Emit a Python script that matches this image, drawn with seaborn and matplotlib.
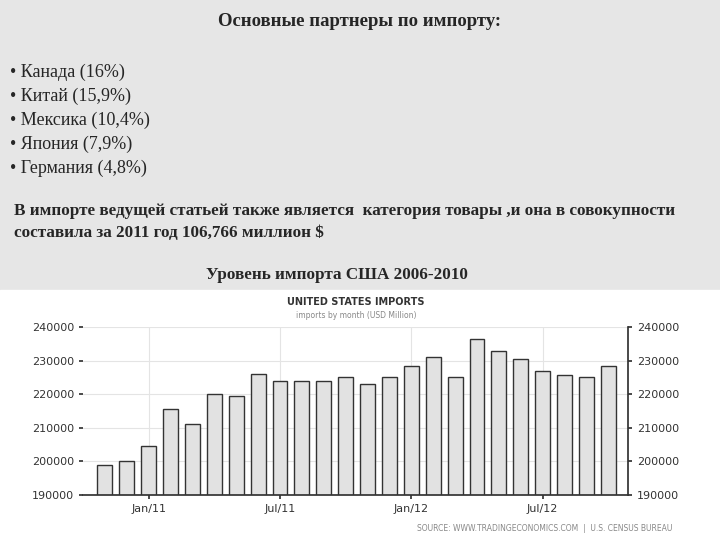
import matplotlib
matplotlib.use("Agg")
import matplotlib.pyplot as plt
import matplotlib.patches as mpatches
import seaborn as sns
import numpy as np

months = ["Nov/10","Dec/10","Jan/11","Feb/11","Mar/11","Apr/11","May/11","Jun/11","Jul/11","Aug/11","Sep/11","Oct/11",
          "Nov/11","Dec/11","Jan/12","Feb/12","Mar/12","Apr/12","May/12","Jun/12","Jul/12","Aug/12","Sep/12","Oct/12"]
imports = [198900,200000,204500,215500,211000,220000,219500,226000,223800,224000,223800,225000,
           223000,225000,228500,231000,225000,236500,233000,230500,227000,225800,225000,228500]
tick_labels = ["Jan/11","Jul/11","Jan/12","Jul/12"]
bullets = ["• Канада (16%)","• Китай (15,9%)","• Мексика (10,4%)","• Япония (7,9%)","• Германия (4,8%)"]

sns.set_theme(style="white")
plt.rcParams['font.family'] = ['Liberation Serif', 'DejaVu Serif']
fig = plt.figure(figsize=(7.2,5.4), dpi=100)
fig.patch.set_facecolor("#e6e6e6")
fig.patches.append(mpatches.Rectangle((0,0),1,1-290/540,transform=fig.transFigure,color="white",zorder=0))
fig.text(0.5,1-22/540,"Основные партнеры по импорту:",ha="center",va="center",fontsize=13.5,fontweight="bold")
for i,b in enumerate(bullets):
    fig.text(10/720,1-(72+24*i)/540,b,va="center",fontsize=13)
fig.text(14/720,1-211/540,"В импорте ведущей статьей также является  категория товары ,и она в совокупности",va="center",fontsize=12.3,fontweight="bold")
fig.text(14/720,1-233/540,"составила за 2011 год 106,766 миллион $",va="center",fontsize=12.3,fontweight="bold")
fig.text(206/720,1-275/540,"Уровень импорта США 2006-2010",va="center",fontsize=12.3,fontweight="bold")

ax = fig.add_axes([83/720,1-495/540,545/720,168/540])
x = np.arange(len(months))
sns.barplot(x=x,y=imports,ax=ax,color="#e2e2e2",edgecolor="#333333",linewidth=1,width=0.68,saturation=1)
ax.set_ylim(190000,240000)
ax.set_xlim(-1.0,len(months)-0.1)
ax.set_xticks([2,8,14,20]); ax.set_xticklabels(tick_labels)
ax.set_yticks(range(190000,240001,10000))
sans=['DejaVu Sans']
for lab in ax.get_xticklabels()+ax.get_yticklabels():
    lab.set_family(sans); lab.set_fontsize(8); lab.set_color("#333")
ax.grid(True,color="#e4e4e4",lw=0.8); ax.set_axisbelow(True)
for s in ["top","right","left"]: ax.spines[s].set_visible(False)
ax.spines["bottom"].set_color("#333")
ax.tick_params(axis="both",length=3,color="#333",left=True,bottom=True)
ax2 = ax.twinx(); ax2.set_ylim(190000,240000); ax2.set_yticks(range(190000,240001,10000))
for s in ["top","left","bottom"]: ax2.spines[s].set_visible(False)
ax2.spines["right"].set_color("#333")
ax2.tick_params(axis="y",length=3,color="#333",right=True)
for lab in ax2.get_yticklabels():
    lab.set_family(sans); lab.set_fontsize(8); lab.set_color("#333")
ax.set_zorder(3); ax2.set_zorder(4); ax2.patch.set_visible(False)
fig.text(356/720,1-305/540,"UNITED STATES IMPORTS",ha="center",fontsize=7,fontweight="bold",family=sans,color="#333")
fig.text(356/720,1-318/540,"imports by month (USD Million)",ha="center",fontsize=5.5,family=sans,color="#888")
fig.text(672/720,1-531/540,"SOURCE: WWW.TRADINGECONOMICS.COM  |  U.S. CENSUS BUREAU",ha="right",fontsize=5.5,family=sans,color="#888")
fig.savefig("out.png",dpi=100,facecolor=fig.get_facecolor())
